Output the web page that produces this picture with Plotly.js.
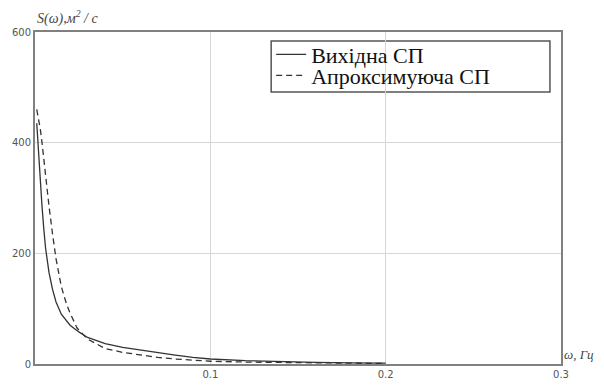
<!DOCTYPE html>
<html><head><meta charset="utf-8">
<script src="https://cdn.plot.ly/plotly-3.0.1.min.js"></script>
<style>html,body{margin:0;padding:0;background:#fff}#chart{width:604px;height:385px}</style>
</head><body><div id="chart"></div>
<script>
const seriesNames = ["Вихідна СП", "Апроксимуюча СП"];
const xSolid = [0.001,0.002,0.003,0.004,0.005,0.006,0.008,0.010,0.012,0.015,0.02,0.025,0.03,0.04,0.05,0.06,0.07,0.08,0.09,0.1,0.12,0.14,0.16,0.18,0.2];
const ySolid = [435,380,330,285,245,210,165,135,112,90,70,58,48,37,30,25,20,16,12,9,6,4,3,2,1.5];
const xDash = [0.001,0.002,0.003,0.004,0.005,0.006,0.008,0.010,0.012,0.015,0.018,0.02,0.024,0.03,0.04,0.05,0.06,0.07,0.08,0.09,0.1,0.12,0.14,0.16,0.18,0.2];
const yDash = [460,445,425,400,370,340,285,235,190,140,108,92,65,45,28,21,16,12,9,7,5,3.5,2.5,2,1.5,1];
const xTicks = [0.1,0.2,0.3];
const yTicks = [0,200,400,600];

const serif = 'Liberation Serif, Times New Roman, serif';
const traces = [
  {x:xSolid,y:ySolid,name:seriesNames[0],mode:'lines',line:{color:'#333',width:1.3},legend:'legend'},
  {x:xDash,y:yDash,name:seriesNames[1],mode:'lines',line:{color:'#333',width:1.3,dash:'6px,4px'},legend:'legend2'}
];
const tickFont = {family:'DejaVu Sans',size:10,color:'#555'};
const legBase = {xanchor:'left',yanchor:'middle',bgcolor:'rgba(0,0,0,0)',borderwidth:0,
    font:{family:serif,size:22,color:'#111'},itemwidth:30};
const layout = {
  width:604,height:385,
  margin:{l:35,r:43,t:32,b:21},
  paper_bgcolor:'#fff',plot_bgcolor:'#fff',
  font:{family:serif,size:22,color:'#111'},
  xaxis:{range:[0,0.3],tickvals:xTicks,ticktext:xTicks.map(String),showgrid:true,gridcolor:'#d6d6d6',gridwidth:1,
    showline:true,linecolor:'#808080',linewidth:2,mirror:true,ticks:'',zeroline:false,tickfont:tickFont},
  yaxis:{range:[0,600],tickvals:yTicks,ticktext:yTicks.map(String),showgrid:true,gridcolor:'#d6d6d6',gridwidth:1,
    showline:true,linecolor:'#808080',linewidth:2,mirror:true,ticks:'',zeroline:false,tickfont:tickFont},
  showlegend:true,
  legend:Object.assign({},legBase,{x:0.449,y:0.932}),
  legend2:Object.assign({},legBase,{x:0.449,y:0.869}),
  shapes:[{type:'rect',xref:'paper',yref:'paper',x0:0.449,x1:0.979,y0:0.819,y1:0.973,
    line:{color:'#555',width:1.5},fillcolor:'#fff',layer:'below'}],
  annotations:[
    {text:'<i>S(ω),м<sup>2</sup> / с</i>',xref:'paper',yref:'paper',x:0,y:1,xanchor:'left',yanchor:'bottom',yshift:3,showarrow:false,
      font:{family:serif,size:14,color:'#444'}},
    {text:'<i>ω, Гц</i>',xref:'paper',yref:'paper',x:1,y:0,xanchor:'left',yanchor:'bottom',xshift:1,showarrow:false,
      font:{family:serif,size:13,color:'#444'}}
  ]
};
Plotly.newPlot('chart',traces,layout,{displayModeBar:false,staticPlot:true});
</script></body></html>
